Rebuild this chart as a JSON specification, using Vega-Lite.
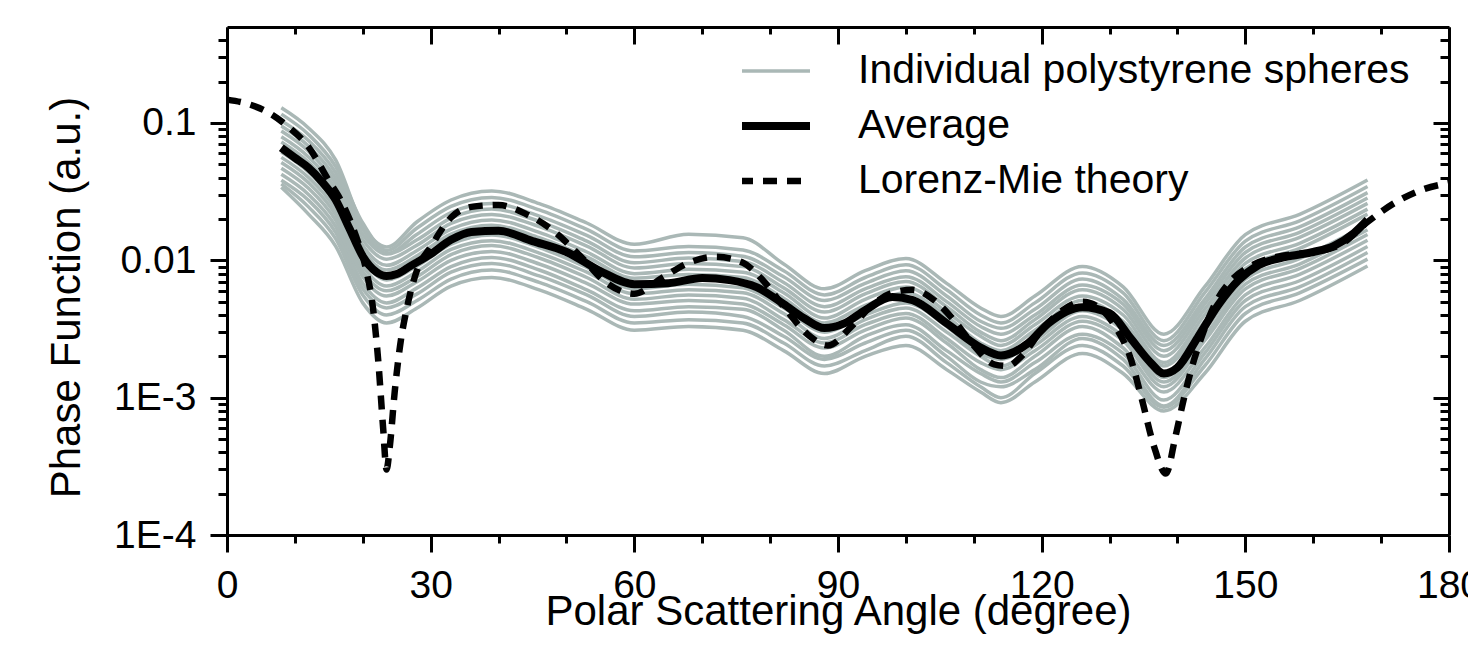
{
  "$schema": "https://vega.github.io/schema/vega-lite/v6.json",
  "width": 1222,
  "height": 508,
  "autosize": "none",
  "padding": {"left": 227, "top": 27, "right": 19, "bottom": 130},
  "background": "white",
  "config": {
    "view": {"stroke": null},
    "font": "Liberation Sans",
    "axis": {"domainColor": "black", "domainWidth": 3, "tickColor": "black", "tickWidth": 3, "labelColor": "black", "titleColor": "black", "labelFont": "Liberation Sans", "titleFont": "Liberation Sans", "labelFontSize": 39, "titleFontSize": 42, "titleFontWeight": "normal", "grid": false},
    "legend": {"symbolType": "stroke", "symbolSize": 9025, "labelFontSize": 41, "labelFont": "Liberation Sans", "labelColor": "black", "labelLimit": 1000, "padding": 0, "rowPadding": 14, "clipHeight": 40, "labelOffset": 75}
  },
  "datasets": {
    "gray": [
      {"id":1,"a":8,"v":0.129},{"id":1,"a":12,"v":0.092},{"id":1,"a":16,"v":0.0538},{"id":1,"a":20,"v":0.018},{"id":1,"a":23.5,"v":0.0125},{"id":1,"a":28,"v":0.0191},{"id":1,"a":33,"v":0.0275},{"id":1,"a":39,"v":0.032},{"id":1,"a":46,"v":0.0259},{"id":1,"a":53,"v":0.0187},{"id":1,"a":60,"v":0.0131},{"id":1,"a":68,"v":0.0155},{"id":1,"a":76,"v":0.0146},{"id":1,"a":82,"v":0.0094},{"id":1,"a":88,"v":0.0062},{"id":1,"a":94,"v":0.0084},{"id":1,"a":100,"v":0.0103},{"id":1,"a":106,"v":0.0068},{"id":1,"a":111,"v":0.0045},{"id":1,"a":114,"v":0.0039},{"id":1,"a":119,"v":0.0055},{"id":1,"a":126,"v":0.009},{"id":1,"a":132,"v":0.0064},{"id":1,"a":138,"v":0.0029},{"id":1,"a":144,"v":0.0064},{"id":1,"a":150,"v":0.0154},{"id":1,"a":158,"v":0.0216},{"id":1,"a":168,"v":0.0384},
      {"id":2,"a":8,"v":0.116},{"id":2,"a":12,"v":0.0826},{"id":2,"a":16,"v":0.0483},{"id":2,"a":20,"v":0.0187},{"id":2,"a":23.5,"v":0.0118},{"id":2,"a":28,"v":0.0172},{"id":2,"a":33,"v":0.0247},{"id":2,"a":39,"v":0.0287},{"id":2,"a":46,"v":0.0233},{"id":2,"a":53,"v":0.0168},{"id":2,"a":60,"v":0.0117},{"id":2,"a":68,"v":0.0126},{"id":2,"a":76,"v":0.0119},{"id":2,"a":82,"v":0.0084},{"id":2,"a":88,"v":0.0056},{"id":2,"a":94,"v":0.0075},{"id":2,"a":100,"v":0.0093},{"id":2,"a":106,"v":0.0061},{"id":2,"a":111,"v":0.004},{"id":2,"a":114,"v":0.0035},{"id":2,"a":119,"v":0.0049},{"id":2,"a":126,"v":0.0081},{"id":2,"a":132,"v":0.0058},{"id":2,"a":138,"v":0.0026},{"id":2,"a":144,"v":0.0058},{"id":2,"a":150,"v":0.0138},{"id":2,"a":158,"v":0.0194},{"id":2,"a":168,"v":0.0345},
      {"id":3,"a":8,"v":0.104},{"id":3,"a":12,"v":0.0746},{"id":3,"a":16,"v":0.0436},{"id":3,"a":20,"v":0.0169},{"id":3,"a":23.5,"v":0.0112},{"id":3,"a":28,"v":0.0155},{"id":3,"a":33,"v":0.0223},{"id":3,"a":39,"v":0.0259},{"id":3,"a":46,"v":0.021},{"id":3,"a":53,"v":0.0152},{"id":3,"a":60,"v":0.0106},{"id":3,"a":68,"v":0.0114},{"id":3,"a":76,"v":0.0107},{"id":3,"a":82,"v":0.0076},{"id":3,"a":88,"v":0.0051},{"id":3,"a":94,"v":0.0068},{"id":3,"a":100,"v":0.0084},{"id":3,"a":106,"v":0.0055},{"id":3,"a":111,"v":0.0036},{"id":3,"a":114,"v":0.0032},{"id":3,"a":119,"v":0.0044},{"id":3,"a":126,"v":0.0073},{"id":3,"a":132,"v":0.0052},{"id":3,"a":138,"v":0.0024},{"id":3,"a":144,"v":0.0052},{"id":3,"a":150,"v":0.0125},{"id":3,"a":158,"v":0.0175},{"id":3,"a":168,"v":0.0311},
      {"id":4,"a":8,"v":0.0952},{"id":4,"a":12,"v":0.068},{"id":4,"a":16,"v":0.0397},{"id":4,"a":20,"v":0.0154},{"id":4,"a":23.5,"v":0.0111},{"id":4,"a":28,"v":0.0141},{"id":4,"a":33,"v":0.0203},{"id":4,"a":39,"v":0.0236},{"id":4,"a":46,"v":0.0192},{"id":4,"a":53,"v":0.0138},{"id":4,"a":60,"v":0.0096},{"id":4,"a":68,"v":0.0104},{"id":4,"a":76,"v":0.0098},{"id":4,"a":82,"v":0.0069},{"id":4,"a":88,"v":0.0046},{"id":4,"a":94,"v":0.0062},{"id":4,"a":100,"v":0.0076},{"id":4,"a":106,"v":0.005},{"id":4,"a":111,"v":0.0033},{"id":4,"a":114,"v":0.0029},{"id":4,"a":119,"v":0.004},{"id":4,"a":126,"v":0.0066},{"id":4,"a":132,"v":0.0048},{"id":4,"a":138,"v":0.0022},{"id":4,"a":144,"v":0.0048},{"id":4,"a":150,"v":0.0114},{"id":4,"a":158,"v":0.016},{"id":4,"a":168,"v":0.0284},
      {"id":5,"a":8,"v":0.0873},{"id":5,"a":12,"v":0.0623},{"id":5,"a":16,"v":0.0364},{"id":5,"a":20,"v":0.0141},{"id":5,"a":23.5,"v":0.0102},{"id":5,"a":28,"v":0.0129},{"id":5,"a":33,"v":0.0186},{"id":5,"a":39,"v":0.0216},{"id":5,"a":46,"v":0.0176},{"id":5,"a":53,"v":0.0127},{"id":5,"a":60,"v":0.0088},{"id":5,"a":68,"v":0.0095},{"id":5,"a":76,"v":0.009},{"id":5,"a":82,"v":0.0063},{"id":5,"a":88,"v":0.0042},{"id":5,"a":94,"v":0.0057},{"id":5,"a":100,"v":0.007},{"id":5,"a":106,"v":0.0046},{"id":5,"a":111,"v":0.003},{"id":5,"a":114,"v":0.0026},{"id":5,"a":119,"v":0.0037},{"id":5,"a":126,"v":0.0061},{"id":5,"a":132,"v":0.0044},{"id":5,"a":138,"v":0.002},{"id":5,"a":144,"v":0.0044},{"id":5,"a":150,"v":0.0104},{"id":5,"a":158,"v":0.0147},{"id":5,"a":168,"v":0.026},
      {"id":6,"a":8,"v":0.0793},{"id":6,"a":12,"v":0.0566},{"id":6,"a":16,"v":0.0331},{"id":6,"a":20,"v":0.0128},{"id":6,"a":23.5,"v":0.0092},{"id":6,"a":28,"v":0.0118},{"id":6,"a":33,"v":0.0169},{"id":6,"a":39,"v":0.0197},{"id":6,"a":46,"v":0.016},{"id":6,"a":53,"v":0.0115},{"id":6,"a":60,"v":0.008},{"id":6,"a":68,"v":0.0086},{"id":6,"a":76,"v":0.0082},{"id":6,"a":82,"v":0.0058},{"id":6,"a":88,"v":0.0038},{"id":6,"a":94,"v":0.0052},{"id":6,"a":100,"v":0.0064},{"id":6,"a":106,"v":0.0042},{"id":6,"a":111,"v":0.0028},{"id":6,"a":114,"v":0.0024},{"id":6,"a":119,"v":0.0034},{"id":6,"a":126,"v":0.0055},{"id":6,"a":132,"v":0.004},{"id":6,"a":138,"v":0.0018},{"id":6,"a":144,"v":0.004},{"id":6,"a":150,"v":0.0095},{"id":6,"a":158,"v":0.0133},{"id":6,"a":168,"v":0.0236},
      {"id":7,"a":8,"v":0.0727},{"id":7,"a":12,"v":0.0519},{"id":7,"a":16,"v":0.0304},{"id":7,"a":20,"v":0.0118},{"id":7,"a":23.5,"v":0.0085},{"id":7,"a":28,"v":0.0108},{"id":7,"a":33,"v":0.0155},{"id":7,"a":39,"v":0.018},{"id":7,"a":46,"v":0.0146},{"id":7,"a":53,"v":0.0106},{"id":7,"a":60,"v":0.0074},{"id":7,"a":68,"v":0.0079},{"id":7,"a":76,"v":0.0075},{"id":7,"a":82,"v":0.0053},{"id":7,"a":88,"v":0.0035},{"id":7,"a":94,"v":0.0047},{"id":7,"a":100,"v":0.0058},{"id":7,"a":106,"v":0.0039},{"id":7,"a":111,"v":0.0025},{"id":7,"a":114,"v":0.0022},{"id":7,"a":119,"v":0.0031},{"id":7,"a":126,"v":0.0051},{"id":7,"a":132,"v":0.0036},{"id":7,"a":138,"v":0.0017},{"id":7,"a":144,"v":0.0036},{"id":7,"a":150,"v":0.0087},{"id":7,"a":158,"v":0.0122},{"id":7,"a":168,"v":0.0217},
      {"id":8,"a":8,"v":0.0615},{"id":8,"a":12,"v":0.0439},{"id":8,"a":16,"v":0.0257},{"id":8,"a":20,"v":0.01},{"id":8,"a":23.5,"v":0.0072},{"id":8,"a":28,"v":0.0091},{"id":8,"a":33,"v":0.0131},{"id":8,"a":39,"v":0.0153},{"id":8,"a":46,"v":0.0124},{"id":8,"a":53,"v":0.0089},{"id":8,"a":60,"v":0.0062},{"id":8,"a":68,"v":0.0067},{"id":8,"a":76,"v":0.0063},{"id":8,"a":82,"v":0.0045},{"id":8,"a":88,"v":0.003},{"id":8,"a":94,"v":0.004},{"id":8,"a":100,"v":0.0049},{"id":8,"a":106,"v":0.0033},{"id":8,"a":111,"v":0.0021},{"id":8,"a":114,"v":0.0019},{"id":8,"a":119,"v":0.0026},{"id":8,"a":126,"v":0.0043},{"id":8,"a":132,"v":0.0031},{"id":8,"a":138,"v":0.0014},{"id":8,"a":144,"v":0.0031},{"id":8,"a":150,"v":0.0073},{"id":8,"a":158,"v":0.0103},{"id":8,"a":168,"v":0.0183},
      {"id":9,"a":8,"v":0.0562},{"id":9,"a":12,"v":0.0401},{"id":9,"a":16,"v":0.0235},{"id":9,"a":20,"v":0.0091},{"id":9,"a":23.5,"v":0.0065},{"id":9,"a":28,"v":0.0083},{"id":9,"a":33,"v":0.012},{"id":9,"a":39,"v":0.0139},{"id":9,"a":46,"v":0.0113},{"id":9,"a":53,"v":0.0082},{"id":9,"a":60,"v":0.0057},{"id":9,"a":68,"v":0.0061},{"id":9,"a":76,"v":0.0058},{"id":9,"a":82,"v":0.0041},{"id":9,"a":88,"v":0.0027},{"id":9,"a":94,"v":0.0037},{"id":9,"a":100,"v":0.0045},{"id":9,"a":106,"v":0.003},{"id":9,"a":111,"v":0.002},{"id":9,"a":114,"v":0.0017},{"id":9,"a":119,"v":0.0024},{"id":9,"a":126,"v":0.0039},{"id":9,"a":132,"v":0.0028},{"id":9,"a":138,"v":0.0013},{"id":9,"a":144,"v":0.0028},{"id":9,"a":150,"v":0.0067},{"id":9,"a":158,"v":0.0094},{"id":9,"a":168,"v":0.0167},
      {"id":10,"a":8,"v":0.0516},{"id":10,"a":12,"v":0.0368},{"id":10,"a":16,"v":0.0215},{"id":10,"a":20,"v":0.0083},{"id":10,"a":23.5,"v":0.006},{"id":10,"a":28,"v":0.0076},{"id":10,"a":33,"v":0.011},{"id":10,"a":39,"v":0.0128},{"id":10,"a":46,"v":0.0104},{"id":10,"a":53,"v":0.0075},{"id":10,"a":60,"v":0.0052},{"id":10,"a":68,"v":0.0056},{"id":10,"a":76,"v":0.0053},{"id":10,"a":82,"v":0.0037},{"id":10,"a":88,"v":0.0025},{"id":10,"a":94,"v":0.0034},{"id":10,"a":100,"v":0.0041},{"id":10,"a":106,"v":0.0027},{"id":10,"a":111,"v":0.0018},{"id":10,"a":114,"v":0.0016},{"id":10,"a":119,"v":0.0022},{"id":10,"a":126,"v":0.0036},{"id":10,"a":132,"v":0.0026},{"id":10,"a":138,"v":0.0012},{"id":10,"a":144,"v":0.0026},{"id":10,"a":150,"v":0.0062},{"id":10,"a":158,"v":0.0087},{"id":10,"a":168,"v":0.0154},
      {"id":11,"a":8,"v":0.0469},{"id":11,"a":12,"v":0.0335},{"id":11,"a":16,"v":0.0196},{"id":11,"a":20,"v":0.0076},{"id":11,"a":23.5,"v":0.0055},{"id":11,"a":28,"v":0.007},{"id":11,"a":33,"v":0.01},{"id":11,"a":39,"v":0.0116},{"id":11,"a":46,"v":0.0094},{"id":11,"a":53,"v":0.0068},{"id":11,"a":60,"v":0.0048},{"id":11,"a":68,"v":0.0051},{"id":11,"a":76,"v":0.0048},{"id":11,"a":82,"v":0.0034},{"id":11,"a":88,"v":0.0023},{"id":11,"a":94,"v":0.0031},{"id":11,"a":100,"v":0.0038},{"id":11,"a":106,"v":0.0025},{"id":11,"a":111,"v":0.0016},{"id":11,"a":114,"v":0.0014},{"id":11,"a":119,"v":0.002},{"id":11,"a":126,"v":0.0033},{"id":11,"a":132,"v":0.0023},{"id":11,"a":138,"v":0.0011},{"id":11,"a":144,"v":0.0023},{"id":11,"a":150,"v":0.0056},{"id":11,"a":158,"v":0.0079},{"id":11,"a":168,"v":0.014},
      {"id":12,"a":8,"v":0.0423},{"id":12,"a":12,"v":0.0302},{"id":12,"a":16,"v":0.0177},{"id":12,"a":20,"v":0.0068},{"id":12,"a":23.5,"v":0.0049},{"id":12,"a":28,"v":0.0063},{"id":12,"a":33,"v":0.009},{"id":12,"a":39,"v":0.0105},{"id":12,"a":46,"v":0.0085},{"id":12,"a":53,"v":0.0061},{"id":12,"a":60,"v":0.0043},{"id":12,"a":68,"v":0.0046},{"id":12,"a":76,"v":0.0044},{"id":12,"a":82,"v":0.0031},{"id":12,"a":88,"v":0.002},{"id":12,"a":94,"v":0.0028},{"id":12,"a":100,"v":0.0034},{"id":12,"a":106,"v":0.0022},{"id":12,"a":111,"v":0.0015},{"id":12,"a":114,"v":0.0013},{"id":12,"a":119,"v":0.0018},{"id":12,"a":126,"v":0.0029},{"id":12,"a":132,"v":0.0021},{"id":12,"a":138,"v":0.00096},{"id":12,"a":144,"v":0.0021},{"id":12,"a":150,"v":0.0051},{"id":12,"a":158,"v":0.0071},{"id":12,"a":168,"v":0.0126},
      {"id":13,"a":8,"v":0.0383},{"id":13,"a":12,"v":0.0274},{"id":13,"a":16,"v":0.016},{"id":13,"a":20,"v":0.0062},{"id":13,"a":23.5,"v":0.0045},{"id":13,"a":28,"v":0.0057},{"id":13,"a":33,"v":0.0082},{"id":13,"a":39,"v":0.0095},{"id":13,"a":46,"v":0.0077},{"id":13,"a":53,"v":0.0056},{"id":13,"a":60,"v":0.0039},{"id":13,"a":68,"v":0.0042},{"id":13,"a":76,"v":0.0039},{"id":13,"a":82,"v":0.0028},{"id":13,"a":88,"v":0.0019},{"id":13,"a":94,"v":0.0025},{"id":13,"a":100,"v":0.0031},{"id":13,"a":106,"v":0.002},{"id":13,"a":111,"v":0.0013},{"id":13,"a":114,"v":0.0012},{"id":13,"a":119,"v":0.0016},{"id":13,"a":126,"v":0.0027},{"id":13,"a":132,"v":0.0019},{"id":13,"a":138,"v":0.00087},{"id":13,"a":144,"v":0.0019},{"id":13,"a":150,"v":0.0046},{"id":13,"a":158,"v":0.0064},{"id":13,"a":168,"v":0.0114},
      {"id":14,"a":8,"v":0.036},{"id":14,"a":12,"v":0.0245},{"id":14,"a":16,"v":0.0144},{"id":14,"a":20,"v":0.0056},{"id":14,"a":23.5,"v":0.004},{"id":14,"a":28,"v":0.0051},{"id":14,"a":33,"v":0.0073},{"id":14,"a":39,"v":0.0085},{"id":14,"a":46,"v":0.0069},{"id":14,"a":53,"v":0.005},{"id":14,"a":60,"v":0.0035},{"id":14,"a":68,"v":0.0037},{"id":14,"a":76,"v":0.0035},{"id":14,"a":82,"v":0.0025},{"id":14,"a":88,"v":0.0017},{"id":14,"a":94,"v":0.0022},{"id":14,"a":100,"v":0.0028},{"id":14,"a":106,"v":0.0018},{"id":14,"a":111,"v":0.0012},{"id":14,"a":114,"v":0.001},{"id":14,"a":119,"v":0.0015},{"id":14,"a":126,"v":0.0024},{"id":14,"a":132,"v":0.0017},{"id":14,"a":138,"v":0.00085},{"id":14,"a":144,"v":0.0017},{"id":14,"a":150,"v":0.0041},{"id":14,"a":158,"v":0.0058},{"id":14,"a":168,"v":0.0102},
      {"id":15,"a":8,"v":0.034},{"id":15,"a":12,"v":0.0217},{"id":15,"a":16,"v":0.0127},{"id":15,"a":20,"v":0.0049},{"id":15,"a":23.5,"v":0.0035},{"id":15,"a":28,"v":0.0045},{"id":15,"a":33,"v":0.0065},{"id":15,"a":39,"v":0.0075},{"id":15,"a":46,"v":0.0061},{"id":15,"a":53,"v":0.0044},{"id":15,"a":60,"v":0.0031},{"id":15,"a":68,"v":0.0033},{"id":15,"a":76,"v":0.0031},{"id":15,"a":82,"v":0.0022},{"id":15,"a":88,"v":0.0015},{"id":15,"a":94,"v":0.002},{"id":15,"a":100,"v":0.0024},{"id":15,"a":106,"v":0.0016},{"id":15,"a":111,"v":0.0011},{"id":15,"a":114,"v":0.00092},{"id":15,"a":119,"v":0.0013},{"id":15,"a":126,"v":0.0021},{"id":15,"a":132,"v":0.0015},{"id":15,"a":138,"v":0.0008},{"id":15,"a":144,"v":0.0015},{"id":15,"a":150,"v":0.0036},{"id":15,"a":158,"v":0.0051},{"id":15,"a":168,"v":0.0091}
    ],
    "avg": [
      {"a":8,"v":0.0661},{"a":10,"v":0.0558},{"a":12,"v":0.0472},{"a":14,"v":0.0373},{"a":16,"v":0.0276},{"a":18,"v":0.0172},{"a":20,"v":0.0107},{"a":22,"v":0.00822},{"a":23.5,"v":0.00768},{"a":25,"v":0.00794},{"a":27,"v":0.00908},{"a":30,"v":0.0111},{"a":33,"v":0.0141},{"a":36,"v":0.0161},{"a":40,"v":0.0164},{"a":45,"v":0.0138},{"a":50,"v":0.0115},{"a":55,"v":0.00836},{"a":60,"v":0.00671},{"a":65,"v":0.00682},{"a":70,"v":0.00743},{"a":74,"v":0.00718},{"a":78,"v":0.00638},{"a":82,"v":0.0048},{"a":85,"v":0.00379},{"a":88,"v":0.00321},{"a":91,"v":0.00349},{"a":94,"v":0.00434},{"a":98,"v":0.0054},{"a":101,"v":0.00513},{"a":106,"v":0.00348},{"a":111,"v":0.00232},{"a":114,"v":0.00203},{"a":118,"v":0.00249},{"a":121,"v":0.00348},{"a":126,"v":0.00456},{"a":130,"v":0.00412},{"a":133,"v":0.00275},{"a":136,"v":0.00181},{"a":138,"v":0.0015},{"a":140,"v":0.00166},{"a":143,"v":0.00275},{"a":146,"v":0.00472},{"a":149,"v":0.00718},{"a":152,"v":0.00925},{"a":156,"v":0.0106},{"a":160,"v":0.0115},{"a":163,"v":0.0127},{"a":166,"v":0.0158},{"a":168,"v":0.0197}
    ],
    "mie": [
      {"a":0,"v":0.148},{"a":3,"v":0.138},{"a":6,"v":0.12},{"a":9,"v":0.094},{"a":12,"v":0.067},{"a":15,"v":0.038},{"a":17,"v":0.026},{"a":19,"v":0.015},{"a":20.5,"v":0.0085},{"a":21.5,"v":0.0045},{"a":22.3,"v":0.0018},{"a":23,"v":0.0006},{"a":23.5,"v":0.0003},{"a":24,"v":0.00045},{"a":24.7,"v":0.0011},{"a":25.5,"v":0.0024},{"a":26.5,"v":0.0045},{"a":28,"v":0.0085},{"a":30,"v":0.0125},{"a":33,"v":0.0205},{"a":36,"v":0.0245},{"a":40,"v":0.0253},{"a":44,"v":0.0218},{"a":48,"v":0.0165},{"a":52,"v":0.0108},{"a":56,"v":0.0068},{"a":60,"v":0.0057},{"a":64,"v":0.0074},{"a":68,"v":0.0096},{"a":72,"v":0.0106},{"a":76,"v":0.0096},{"a":79,"v":0.0071},{"a":82,"v":0.0046},{"a":85.5,"v":0.0029},{"a":88.5,"v":0.0024},{"a":92,"v":0.0033},{"a":95,"v":0.0047},{"a":98,"v":0.0058},{"a":101,"v":0.0061},{"a":104,"v":0.0052},{"a":107,"v":0.0037},{"a":110,"v":0.0024},{"a":113,"v":0.00175},{"a":115,"v":0.0017},{"a":117,"v":0.002},{"a":120,"v":0.0031},{"a":123,"v":0.0043},{"a":126,"v":0.005},{"a":129,"v":0.0043},{"a":131,"v":0.0032},{"a":133,"v":0.002},{"a":134.7,"v":0.001},{"a":136.5,"v":0.00045},{"a":138.3,"v":0.00028},{"a":139.7,"v":0.00052},{"a":141,"v":0.00101},{"a":142,"v":0.00158},{"a":143.6,"v":0.0028},{"a":145.8,"v":0.0051},{"a":148,"v":0.0072},{"a":151,"v":0.0092},{"a":155,"v":0.0107},{"a":160,"v":0.0115},{"a":164,"v":0.013},{"a":168,"v":0.019},{"a":172,"v":0.0262},{"a":176,"v":0.0326},{"a":180,"v":0.0366}
    ]
  },
  "layer": [
    {
      "data": {"name": "gray"},
      "mark": {"type": "line", "interpolate": "monotone", "strokeCap": "butt", "strokeJoin": "round", "strokeWidth": 3.5},
      "encoding": {
        "x": {"field": "a", "type": "quantitative", "scale": {"domain": [0, 180], "nice": false, "zero": false},
          "axis": {"orient": "bottom", "values": [0, 30, 60, 90, 120, 150, 180], "tickSize": 17, "labelPadding": 14, "labelFlush": false, "labelOverlap": false, "title": "Polar Scattering Angle (degree)", "titleBaseline": "alphabetic", "titleY": 89}},
        "y": {"field": "v", "type": "quantitative", "scale": {"type": "log", "domain": [0.0001, 0.5], "nice": false},
          "axis": {"orient": "left", "values": [0.0001, 0.001, 0.01, 0.1], "tickSize": 17, "labelPadding": 14, "labelFlush": false, "labelOverlap": false, "labelExpr": "datum.value > 0.05 ? '0.1' : datum.value > 0.005 ? '0.01' : datum.value > 0.0005 ? '1E-3' : '1E-4'", "title": "Phase Function (a.u.)", "titleAngle": 270, "titleX": -148, "titleY": 270, "titleAlign": "center", "titleBaseline": "alphabetic"}},
        "detail": {"field": "id", "type": "nominal"},
        "color": {"datum": "Individual polystyrene spheres", "type": "nominal", "scale": {"domain": ["Individual polystyrene spheres", "Average", "Lorenz-Mie theory"], "range": ["#aab8b6", "#000000", "#000000"]},
          "legend": {"title": null, "orient": "none", "legendX": 515, "legendY": 24,
            "encode": {"symbols": {"update": {
              "strokeWidth": {"signal": "datum.value === 'Average' ? 8 : datum.value === 'Lorenz-Mie theory' ? 6.5 : 3.5"},
              "strokeDash": {"signal": "datum.value === 'Lorenz-Mie theory' ? [14, 10] : [1, 0]"},
              "strokeCap": {"value": "butt"}
            }}}}}
      }
    },
    {
      "data": {"name": "avg"},
      "mark": {"type": "line", "interpolate": "monotone", "strokeJoin": "round", "strokeWidth": 8},
      "encoding": {
        "x": {"field": "a", "type": "quantitative", "scale": {"domain": [0, 180], "nice": false, "zero": false},
          "axis": {"orient": "bottom", "values": [10, 20, 40, 50, 70, 80, 100, 110, 130, 140, 160, 170], "tickSize": 8, "labels": false, "domain": false, "title": null}},
        "y": {"field": "v", "type": "quantitative", "scale": {"type": "log", "domain": [0.0001, 0.5], "nice": false},
          "axis": {"orient": "left", "values": [0.0002, 0.0003, 0.0004, 0.0005, 0.0006, 0.0007, 0.0008, 0.0009, 0.002, 0.003, 0.004, 0.005, 0.006, 0.007, 0.008, 0.009, 0.02, 0.03, 0.04, 0.05, 0.06, 0.07, 0.08, 0.09, 0.2, 0.3, 0.4], "tickSize": 9, "labels": false, "domain": false, "title": null}},
        "color": {"datum": "Average", "type": "nominal"}
      }
    },
    {
      "data": {"name": "mie"},
      "mark": {"type": "line", "interpolate": "monotone", "strokeCap": "butt", "strokeWidth": 6.5, "strokeDash": [14, 10]},
      "encoding": {
        "x": {"field": "a", "type": "quantitative", "scale": {"domain": [0, 180], "nice": false, "zero": false},
          "axis": {"orient": "top", "values": [0, 30, 60, 90, 120, 150, 180], "tickSize": -17, "labels": false, "title": null}},
        "y": {"field": "v", "type": "quantitative", "scale": {"type": "log", "domain": [0.0001, 0.5], "nice": false},
          "axis": {"orient": "right", "values": [0.0001, 0.001, 0.01, 0.1], "tickSize": -16, "labels": false, "title": null}},
        "color": {"datum": "Lorenz-Mie theory", "type": "nominal"}
      }
    },
    {
      "data": {"name": "mie"},
      "mark": {"type": "line", "opacity": 0},
      "encoding": {
        "x": {"field": "a", "type": "quantitative", "scale": {"domain": [0, 180], "nice": false, "zero": false},
          "axis": {"orient": "top", "values": [10, 20, 40, 50, 70, 80, 100, 110, 130, 140, 160, 170], "tickSize": -7, "labels": false, "domain": false, "title": null}},
        "y": {"field": "v", "type": "quantitative", "scale": {"type": "log", "domain": [0.0001, 0.5], "nice": false},
          "axis": {"orient": "right", "values": [0.0002, 0.0003, 0.0004, 0.0005, 0.0006, 0.0007, 0.0008, 0.0009, 0.002, 0.003, 0.004, 0.005, 0.006, 0.007, 0.008, 0.009, 0.02, 0.03, 0.04, 0.05, 0.06, 0.07, 0.08, 0.09, 0.2, 0.3, 0.4], "tickSize": -9, "labels": false, "domain": false, "title": null}}
      }
    }
  ],
  "resolve": {"axis": {"x": "independent", "y": "independent"}}
}
